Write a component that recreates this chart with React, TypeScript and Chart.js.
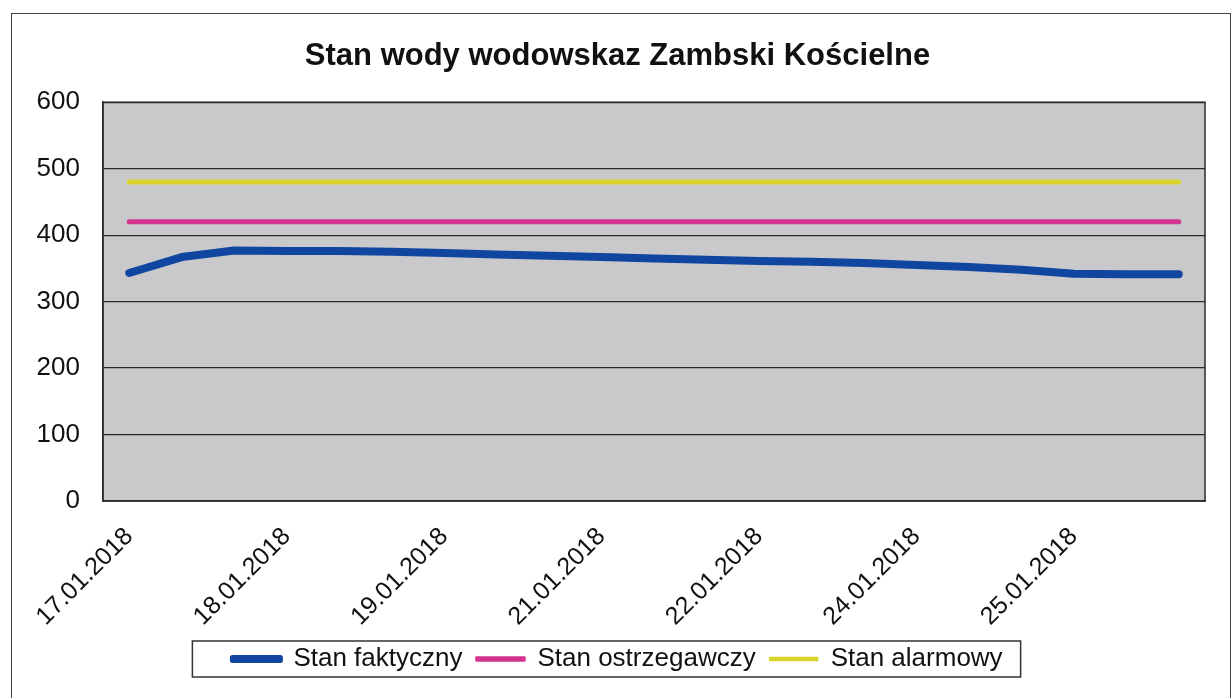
import React, { useEffect, useRef } from 'react';
import { Chart, registerables } from 'chart.js';

Chart.register(...registerables);

const TITLE = 'Stan wody wodowskaz Zambski Kościelne';

const categories = [
  '17.01.2018', '17.01.2018', '18.01.2018', '18.01.2018', '18.01.2018',
  '19.01.2018', '19.01.2018', '20.01.2018', '20.01.2018', '21.01.2018',
  '21.01.2018', '22.01.2018', '22.01.2018', '23.01.2018', '23.01.2018',
  '24.01.2018', '24.01.2018', '25.01.2018', '25.01.2018', '26.01.2018',
  '26.01.2018',
];

const stanFaktyczny = [
  343, 367, 377, 376, 376, 375, 373, 371, 369, 367, 365,
  363, 361, 360, 358, 355, 352, 348, 342, 341, 341,
];
const stanOstrzegawczy = [
  420, 420, 420, 420, 420, 420, 420, 420, 420, 420, 420,
  420, 420, 420, 420, 420, 420, 420, 420, 420, 420,
];
const stanAlarmowy = [
  480, 480, 480, 480, 480, 480, 480, 480, 480, 480, 480,
  480, 480, 480, 480, 480, 480, 480, 480, 480, 480,
];

const yTicks = [0, 100, 200, 300, 400, 500, 600];

const FONT = '"Liberation Sans", Arial, Helvetica, sans-serif';
const COLORS = ['#1046a0', '#d4338e', '#d8d42c'];
const WIDTHS = [8, 5, 5];
const LEGEND_STROKE = [5, 2.5, 1.5];

export default function App() {
  const ref = useRef<HTMLCanvasElement>(null);

  useEffect(() => {
    const canvas = ref.current;
    if (!canvas) return;

    const framePlugin = {
      id: 'framePlugin',
      beforeDraw(chart: any) {
        const { ctx, chartArea: a } = chart;
        ctx.save();
        ctx.fillStyle = '#c9c9cc';
        ctx.fillRect(a.left, a.top, a.width, a.height);
        ctx.restore();
      },
      beforeDatasetsDraw(chart: any) {
        const { ctx, chartArea: a } = chart;
        ctx.save();
        ctx.strokeStyle = '#2a2a2a';
        ctx.lineWidth = 1.5;
        ctx.strokeRect(a.left, a.top, a.width, a.height);
        ctx.restore();
      },
      afterDraw(chart: any) {
        const lg = chart.legend;
        const hb = lg && lg.legendHitBoxes;
        if (!hb || !hb.length) return;
        const first = hb[0];
        const last = hb[hb.length - 1];
        const l = first.left - 40;
        const r = last.left + last.width + 18;
        const t = first.top - 5;
        const h = first.height + 10;
        const { ctx } = chart;
        ctx.save();
        ctx.strokeStyle = '#333';
        ctx.lineWidth = 1.5;
        ctx.strokeRect(l, t, r - l, h);
        ctx.restore();
      },
    };

    const chart = new Chart(canvas, {
      type: 'line',
      data: {
        labels: categories,
        datasets: [
          { label: 'Stan faktyczny', data: stanFaktyczny },
          { label: 'Stan ostrzegawczy', data: stanOstrzegawczy },
          { label: 'Stan alarmowy', data: stanAlarmowy },
        ].map((d, i) => ({
          ...d,
          borderColor: COLORS[i],
          backgroundColor: COLORS[i],
          borderWidth: WIDTHS[i],
          pointRadius: 0,
          tension: 0,
          borderCapStyle: 'round' as const,
          borderJoinStyle: 'round' as const,
          fill: false,
        })),
      },
      options: {
        responsive: false,
        animation: false,
        layout: { padding: { left: 30, right: 27, top: 0, bottom: 16 } },
        plugins: {
          title: {
            display: true,
            text: TITLE,
            color: '#111',
            font: { family: FONT, size: 31, weight: 'bold' },
            padding: { top: 38, bottom: 27 },
          },
          legend: {
            position: 'bottom',
            labels: {
              color: '#111',
              font: { family: FONT, size: 26 },
              boxWidth: 48,
              boxHeight: 3,
              padding: 14,
              generateLabels: (c: any) =>
                c.data.datasets.map((ds: any, i: number) => ({
                  text: ds.label,
                  fillStyle: COLORS[i],
                  strokeStyle: COLORS[i],
                  lineWidth: LEGEND_STROKE[i],
                  lineJoin: 'round',
                  lineCap: 'round',
                  hidden: false,
                  datasetIndex: i,
                  fontColor: '#111',
                })),
            },
          },
          tooltip: { enabled: false },
        },
        scales: {
          x: {
            offset: true,
            grid: { display: false, drawTicks: false },
            border: { display: true, color: '#2a2a2a', width: 1.5 },
            ticks: {
              autoSkip: false,
              maxRotation: 45,
              minRotation: 45,
              padding: 21,
              color: '#111',
              font: { family: FONT, size: 25 },
              callback: (_v: any, i: number) => (i % 3 === 0 ? categories[i] : ''),
            },
            afterFit: (s: any) => {
              s.height = 131;
            },
          },
          y: {
            min: 0,
            max: 600,
            afterBuildTicks: (s: any) => {
              s.ticks = yTicks.map((v) => ({ value: v }));
            },
            grid: { color: '#2a2a2a', lineWidth: 1.2, drawTicks: false },
            border: { display: true, color: '#2a2a2a', width: 1.5 },
            ticks: {
              padding: 23,
              color: '#111',
              font: { family: FONT, size: 26 },
            },
            afterFit: (s: any) => {
              s.width = 73;
            },
          },
        },
      },
      plugins: [framePlugin],
    } as any);

    return () => chart.destroy();
  }, []);

  return (
    <div
      style={{
        position: 'fixed',
        left: 0,
        top: 0,
        width: 1232,
        height: 698,
        background: '#fff',
        overflow: 'hidden',
      }}
    >
      <canvas ref={ref} width={1232} height={698} style={{ display: 'block' }} />
      <div
        style={{
          position: 'absolute',
          left: 11,
          top: 13,
          width: 1218,
          height: 700,
          border: '1.5px solid #444',
          pointerEvents: 'none',
        }}
      />
    </div>
  );
}
